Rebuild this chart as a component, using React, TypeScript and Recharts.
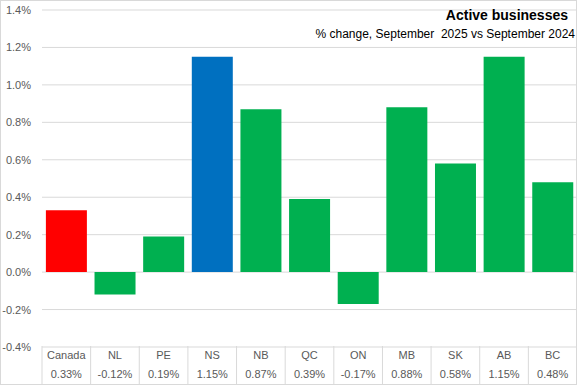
import React from "react";
import { BarChart, Bar, XAxis, YAxis, CartesianGrid, Cell } from "recharts";

const categories = ["Canada", "NL", "PE", "NS", "NB", "QC", "ON", "MB", "SK", "AB", "BC"];
const values = [0.33, -0.12, 0.19, 1.15, 0.87, 0.39, -0.17, 0.88, 0.58, 1.15, 0.48];
const valueLabels = ["0.33%", "-0.12%", "0.19%", "1.15%", "0.87%", "0.39%", "-0.17%", "0.88%", "0.58%", "1.15%", "0.48%"];
const barColors = ["#FF0000", "#00B050", "#00B050", "#0070C0", "#00B050", "#00B050", "#00B050", "#00B050", "#00B050", "#00B050", "#00B050"];
const yTicks = [-0.4, -0.2, 0, 0.2, 0.4, 0.6, 0.8, 1.0, 1.2, 1.4];

const title = "Active businesses";
const subtitle = "% change, September  2025 vs September 2024";

const data = categories.map((name, i) => ({ name, value: values[i], label: valueLabels[i], color: barColors[i] }));

const W = 577;
const H = 385;
const PLOT_LEFT = 42;
const PLOT_TOP = 10;
const AXIS_H = 38;
const BAND = (W - PLOT_LEFT) / categories.length;
const TEXT = "#595959";
const GRID = "#D9D9D9";
const FONT = "'Liberation Sans', Arial, sans-serif";

const XTick = (props: any) => {
  const { x, payload, index } = props;
  const d = data[index] || data.find((e) => e.name === payload.value);
  const top = H - AXIS_H - 1;
  const left = x - BAND / 2;
  const right = x + BAND / 2;
  return (
    <g>
      <line x1={left} y1={top} x2={left} y2={H} stroke={GRID} strokeWidth={1} />
      {index === categories.length - 1 && (
        <line x1={right - 0.5} y1={top} x2={right - 0.5} y2={H} stroke={GRID} strokeWidth={1} />
      )}
      <text x={x} y={top + 12.5} textAnchor="middle" fill={TEXT} fontSize={11} fontFamily={FONT}>
        {payload.value}
      </text>
      <text x={x} y={top + 31.5} textAnchor="middle" fill={TEXT} fontSize={11} fontFamily={FONT}>
        {d ? d.label : ""}
      </text>
    </g>
  );
};

const YTick = (props: any) => {
  const { y, payload } = props;
  return (
    <text x={31} y={y + 4} textAnchor="end" fill={TEXT} fontSize={11} fontFamily={FONT}>
      {Number(payload.value).toFixed(1) + "%"}
    </text>
  );
};

export default function App() {
  return (
    <div style={{ position: "absolute", left: 0, top: 0, width: W, height: H, background: "#fff" }}>
      <BarChart
        width={W}
        height={H}
        data={data}
        margin={{ top: PLOT_TOP, right: 0, left: 0, bottom: 0 }}
        barCategoryGap="8%"
      >
        <CartesianGrid vertical={false} stroke={GRID} />
        <XAxis dataKey="name" axisLine={false} tickLine={false} height={AXIS_H} interval={0} tick={<XTick />} />
        <YAxis
          type="number"
          domain={[-0.4, 1.4]}
          ticks={yTicks}
          axisLine={false}
          tickLine={false}
          width={PLOT_LEFT}
          tick={<YTick />}
          allowDataOverflow
        />
        <Bar dataKey="value" isAnimationActive={false}>
          {data.map((d, i) => (
            <Cell key={i} fill={d.color} />
          ))}
        </Bar>
      </BarChart>
      <svg width={W} height={H} style={{ position: "absolute", left: 0, top: 0, pointerEvents: "none" }}>
        <rect x={0.5} y={0.5} width={W - 1} height={H - 1} fill="none" stroke={GRID} />
        <text
          x={568}
          y={20}
          textAnchor="end"
          fontSize={14}
          fontWeight="bold"
          fill="#000"
          fontFamily="'Liberation Sans', sans-serif"
        >
          {title}
        </text>
        <text
          x={575}
          y={38}
          textAnchor="end"
          fontSize={12}
          fill="#000"
          fontFamily="'Liberation Sans', sans-serif"
          style={{ whiteSpace: "pre" }}
        >
          {subtitle}
        </text>
      </svg>
    </div>
  );
}
